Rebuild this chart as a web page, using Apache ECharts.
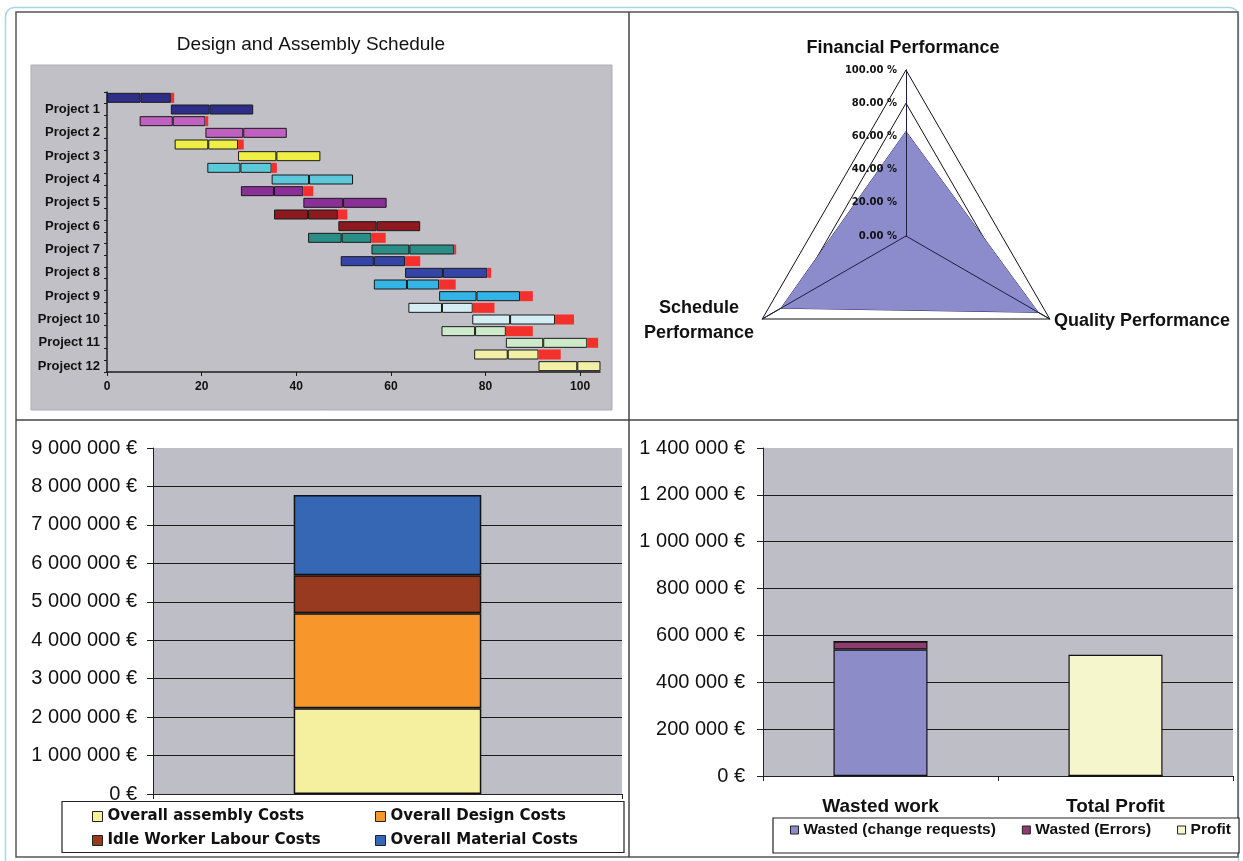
<!DOCTYPE html>
<html>
<head>
<meta charset="utf-8">
<script src="https://cdn.jsdelivr.net/npm/echarts@6/dist/echarts.min.js"></script>
<style>
  html, body { margin: 0; padding: 0; background: #ffffff; }
  #main { width: 1243px; height: 861px; }
</style>
</head>
<body>
<div id="main"></div>
<script>
// ---------- Design and assembly schedule (two rows per project) ----------
const projects = ['Project 1', 'Project 2', 'Project 3', 'Project 4', 'Project 5', 'Project 6',
                  'Project 7', 'Project 8', 'Project 9', 'Project 10', 'Project 11', 'Project 12'];
const projectColors = ['#2E2E88', '#C060C0', '#EEEE44', '#5CC8DA', '#8A2E98', '#8C1A1E',
                       '#2A8E86', '#3544A8', '#33B4E4', '#D4EEF4', '#CDEBCB', '#F2EFA6'];
const delayColor = '#F4302C';

const designStart    = [0, 6.9, 14.3, 21.2, 28.3, 35.3, 42.5, 49.4, 56.4, 63.7, 70.7, 77.6];
const designFirst    = [7.1, 7.0, 7.1, 7.0, 7.0, 7.2, 7.1, 7.0, 7.0, 7.1, 7.1, 7.1];
const designSecond   = [6.4, 6.9, 6.3, 6.6, 6.2, 6.3, 6.3, 6.6, 6.8, 6.5, 6.5, 6.5];
const designDelay    = [0.7, 0.6, 1.2, 1.1, 2.1, 2.0, 3.0, 3.2, 3.5, 4.6, 5.7, 4.7];
const assemblyStart  = [13.5, 20.8, 27.7, 34.8, 41.5, 48.9, 55.9, 63.0, 70.2, 77.2, 84.3, 91.2];
const assemblyFirst  = [8.2, 8.0, 8.1, 7.9, 8.4, 8.1, 8.0, 8.0, 7.9, 8.0, 7.9, 8.2];
const assemblySecond = [9.2, 9.2, 9.3, 9.3, 9.2, 9.2, 9.5, 9.4, 9.2, 9.5, 9.3, 4.9];
const assemblyDelay  = [0, 0, 0, 0, 0, 0, 0.4, 0.8, 2.7, 4.0, 2.3, 0];
const scheduleTicks  = [0, 20, 40, 60, 80, 100];
const scheduleMax = 104.2;

// ---------- Performance radar ----------
const perfIndicators = ['Financial Performance', 'Schedule Performance', 'Quality Performance'];
const perfValues = [63, 87, 92];

// ---------- Cost breakdown ----------
const costNames  = ['Overall assembly Costs', 'Overall Design Costs', 'Idle Worker Labour Costs', 'Overall Material Costs'];
const costValues = [2230000, 2470000, 990000, 2090000];
const costColors = ['#F5F0A0', '#F7972B', '#983A1F', '#3567B5'];

// ---------- Waste vs profit ----------
const profitCategories = ['Wasted work', 'Total Profit'];
const profitNames  = ['Wasted (change requests)', 'Wasted (Errors)', 'Profit'];
const wastedChange = [540000, 0];
const wastedErrors = [34000, 0];
const totalProfit  = [0, 517000];
const profitColors = ['#8C8CC8', '#8C3C6E', '#F6F6CC'];

// ---------- helpers ----------
const ARIAL = "Arial, 'Liberation Sans', sans-serif";
const VERDANA = "'DejaVu Sans', Verdana, sans-serif";
const INK = '#111111';
const PLOT_GRAY = '#BEBEC6';
const euro = v => String(v).replace(/\B(?=(\d{3})+(?!\d))/g, ' ') + ' €';

// interleave design / assembly rows
const rowLabels = [], rowColors = [], rowStart = [], rowFirst = [], rowSecond = [], rowDelay = [];
projects.forEach((p, i) => {
  rowLabels.push('', p);
  rowColors.push(projectColors[i], projectColors[i]);
  rowStart.push(designStart[i], assemblyStart[i]);
  rowFirst.push(designFirst[i], assemblyFirst[i]);
  rowSecond.push(designSecond[i], assemblySecond[i]);
  rowDelay.push(designDelay[i], assemblyDelay[i]);
});
const colored = arr => arr.map((v, i) => ({ value: v, itemStyle: { color: rowColors[i] } }));

const ganttBar = {
  type: 'bar', xAxisIndex: 0, yAxisIndex: 0, stack: 'schedule', barWidth: 10, silent: true
};

const costSeries = costNames.map((name, i) => ({
  name, type: 'bar', xAxisIndex: 1, yAxisIndex: 1, stack: 'cost', barWidth: '40%', silent: true,
  data: [costValues[i]],
  itemStyle: { color: costColors[i], borderColor: '#111', borderWidth: 1.5 }
}));

const profitData = [wastedChange, wastedErrors, totalProfit];
const profitSeries = profitNames.map((name, i) => ({
  name, type: 'bar', xAxisIndex: 2, yAxisIndex: 2, stack: 'profit', barWidth: '40%', silent: true,
  data: profitData[i],
  itemStyle: { color: profitColors[i], borderColor: '#111', borderWidth: 1.2 }
}));

const valueAxisStyle = {
  axisLine: { show: true, lineStyle: { color: '#222', width: 1 } },
  axisTick: { show: true, length: 6, lineStyle: { color: '#222' } },
  splitLine: { show: true, showMaxLine: false, lineStyle: { color: '#1a1a1a', width: 1 } },
  axisLabel: { fontFamily: ARIAL, fontSize: 20, color: INK, margin: 16, formatter: euro }
};

const radarBase = {
  center: [906, 236], radius: 166, startAngle: 90, shape: 'polygon', splitNumber: 5,
  indicator: perfIndicators.map(n => ({ name: n, min: 0, max: 100 })),
  axisName: { show: false },
  splitArea: { show: false },
  axisTick: { show: false },
  axisLabel: { show: false }
};

const legendCommon = {
  padding: 0, itemWidth: 10, itemHeight: 10, icon: 'rect', selectedMode: false,
  itemStyle: { borderColor: '#222', borderWidth: 1 }
};

const chart = echarts.init(document.getElementById('main'), null, { renderer: 'canvas' });
chart.setOption({
  animation: false,
  backgroundColor: '#ffffff',
  title: {
    text: 'Design and Assembly Schedule', left: 306, top: 30, textAlign: 'center',
    textStyle: { fontFamily: ARIAL, fontSize: 19, fontWeight: 'normal', color: INK }
  },
  graphic: [
    { type: 'rect', z: -5, shape: { x: 5.5, y: 7.5, width: 1233, height: 900, r: 9 },
      style: { fill: 'none', stroke: '#A9D2EE', lineWidth: 1.5 } },
    { type: 'rect', z: -4, shape: { x: 16, y: 12, width: 1222, height: 845 },
      style: { fill: '#ffffff', stroke: '#555555', lineWidth: 1.5 } },
    { type: 'line', z: -3, shape: { x1: 629, y1: 12, x2: 629, y2: 857 },
      style: { stroke: '#444444', lineWidth: 1.5 } },
    { type: 'line', z: -3, shape: { x1: 16, y1: 420, x2: 1238, y2: 420 },
      style: { stroke: '#444444', lineWidth: 1.5 } },
    { type: 'rect', z: -2, shape: { x: 31, y: 65, width: 581, height: 345 },
      style: { fill: '#C0C0C6', stroke: '#ADADB3', lineWidth: 1 } },
    { type: 'rect', z: 1, shape: { x: 62, y: 801.5, width: 562, height: 51 },
      style: { fill: '#ffffff', stroke: '#222222', lineWidth: 1.2 } },
    { type: 'rect', z: 1, shape: { x: 773, y: 818, width: 466, height: 35 },
      style: { fill: '#ffffff', stroke: '#222222', lineWidth: 1.2 } },
    { type: 'text', z: 6, x: 903, y: 48,
      style: { text: perfIndicators[0], font: "bold 18px " + ARIAL, fill: INK, align: 'center', verticalAlign: 'middle' } },
    { type: 'text', z: 6, x: 699, y: 320.5,
      style: { text: perfIndicators[1].replace(' ', '\n'), font: "bold 18px " + ARIAL, fill: INK,
               align: 'center', verticalAlign: 'middle', lineHeight: 25 } },
    { type: 'text', z: 6, x: 1054, y: 321,
      style: { text: perfIndicators[2], font: "bold 18px " + ARIAL, fill: INK, align: 'left', verticalAlign: 'middle' } }
  ],
  grid: [
    { left: 107, top: 92, width: 493, height: 280 },
    { left: 153, top: 448, width: 469, height: 346, show: true, backgroundColor: PLOT_GRAY, borderWidth: 0 },
    { left: 763, top: 448, width: 470, height: 328, show: true, backgroundColor: PLOT_GRAY, borderWidth: 0 },
    { left: 906, top: 70, width: 1, height: 166, z: 10 }
  ],
  xAxis: [
    { type: 'value', gridIndex: 0, min: 0, max: scheduleMax,
      axisLine: { show: true, lineStyle: { color: '#1a1a1a', width: 1.5 } },
      axisTick: { show: true, length: 4, customValues: scheduleTicks, lineStyle: { color: '#1a1a1a' } },
      axisLabel: { customValues: scheduleTicks, fontFamily: ARIAL, fontWeight: 'bold', fontSize: 12, color: INK, margin: 9 },
      splitLine: { show: false } },
    { type: 'category', gridIndex: 1, data: ['Costs'],
      axisLine: { lineStyle: { color: '#222' } },
      axisTick: { show: true, length: 5, lineStyle: { color: '#222' } },
      axisLabel: { show: false } },
    { type: 'category', gridIndex: 2, data: profitCategories,
      axisLine: { lineStyle: { color: '#222' } },
      axisTick: { show: true, length: 5, lineStyle: { color: '#222' } },
      axisLabel: { fontFamily: ARIAL, fontWeight: 'bold', fontSize: 19, color: INK, margin: 21 } },
    { type: 'value', gridIndex: 3, show: false }
  ],
  yAxis: [
    { type: 'category', gridIndex: 0, inverse: true, data: rowLabels,
      axisLine: { show: true, lineStyle: { color: '#1a1a1a', width: 1.5 } },
      axisTick: { show: true, interval: 0, length: 3, lineStyle: { color: '#1a1a1a' } },
      axisLabel: { interval: 0, fontFamily: ARIAL, fontWeight: 'bold', fontSize: 13, color: INK, margin: 7 } },
    Object.assign({ type: 'value', gridIndex: 1, min: 0, max: 9000000, interval: 1000000 }, valueAxisStyle),
    Object.assign({ type: 'value', gridIndex: 2, min: 0, max: 1400000, interval: 200000 }, valueAxisStyle,
      { axisLabel: Object.assign({}, valueAxisStyle.axisLabel, { margin: 18 }) }),
    { type: 'value', gridIndex: 3, min: 0, max: 100, interval: 20, z: 10,
      axisLine: { show: false }, axisTick: { show: false }, splitLine: { show: false },
      axisLabel: { fontFamily: VERDANA, fontWeight: 'bold', fontSize: 10, color: INK, margin: 9,
                   formatter: v => v.toFixed(2) + ' %' } }
  ],
  radar: [
    Object.assign({}, radarBase, {
      z: 1,
      splitLine: { show: true, lineStyle: { color: '#111', width: 1 } },
      axisLine: { show: true, lineStyle: { color: '#111', width: 1 } }
    }),
    Object.assign({}, radarBase, {
      z: 5,
      splitLine: { show: false },
      axisLine: { show: true, lineStyle: { color: '#1e1e40', width: 1 } }
    })
  ],
  legend: [
    Object.assign({}, legendCommon, {
      left: 92, top: 809, orient: 'vertical', itemGap: 9, data: [costNames[0], costNames[2]],
      textStyle: { fontFamily: VERDANA, fontWeight: 'bold', fontSize: 15, color: INK } }),
    Object.assign({}, legendCommon, {
      left: 375, top: 809, orient: 'vertical', itemGap: 9, data: [costNames[1], costNames[3]],
      textStyle: { fontFamily: VERDANA, fontWeight: 'bold', fontSize: 15, color: INK } }),
    Object.assign({}, legendCommon, {
      left: 790, top: 822, orient: 'horizontal', itemGap: 26, itemWidth: 8, itemHeight: 8,
      data: profitNames,
      textStyle: { fontFamily: ARIAL, fontWeight: 'bold', fontSize: 15.5, color: INK } })
  ],
  series: [
    Object.assign({}, ganttBar, { name: 'start', data: rowStart, itemStyle: { color: 'transparent' } }),
    Object.assign({}, ganttBar, { name: 'first part', data: colored(rowFirst),
      itemStyle: { borderColor: '#1a1a1a', borderWidth: 1 } }),
    Object.assign({}, ganttBar, { name: 'second part', data: colored(rowSecond),
      itemStyle: { borderColor: '#1a1a1a', borderWidth: 1 } }),
    Object.assign({}, ganttBar, { name: 'delay', data: rowDelay, itemStyle: { color: delayColor } }),
    ...costSeries,
    ...profitSeries,
    { type: 'radar', radarIndex: 0, symbol: 'none', silent: true, z: 2,
      data: [{ value: perfValues, name: 'Performance' }],
      lineStyle: { color: '#2E2E66', width: 1 },
      areaStyle: { color: '#8C8CCC', opacity: 1 } }
  ]
});
</script>
</body>
</html>
